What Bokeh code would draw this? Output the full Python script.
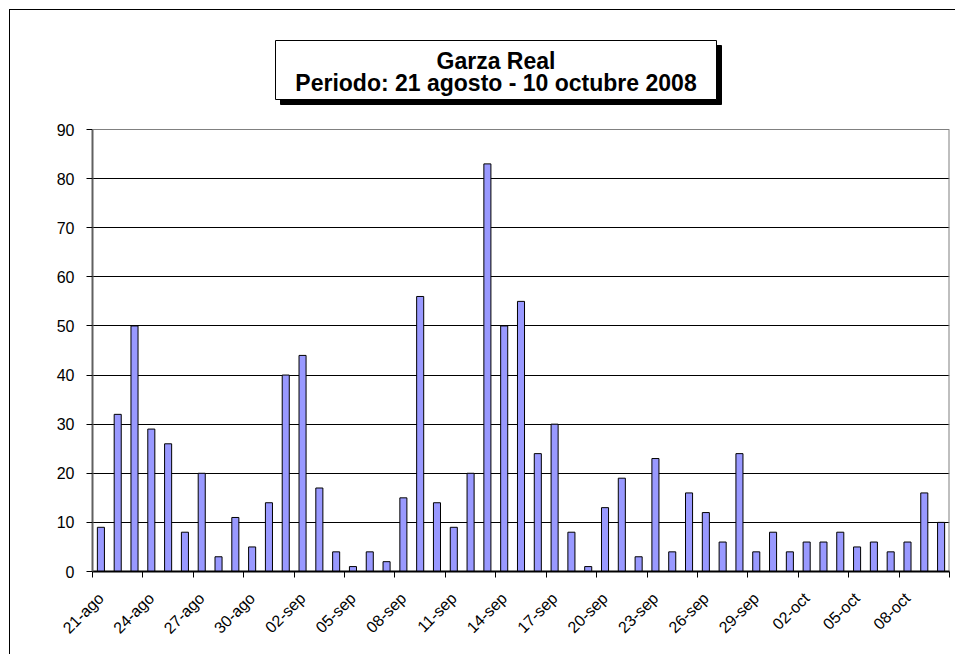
import math
from bokeh.plotting import figure
from bokeh.models import (ColumnDataSource, FixedTicker, Range1d, Label,
                          BoxAnnotation, Span)
from bokeh.embed import file_html
from bokeh.resources import INLINE

# ---- data ----
dates = (["%02d-ago" % d for d in range(21, 32)]
         + ["%02d-sep" % d for d in range(1, 31)]
         + ["%02d-oct" % d for d in range(1, 11)])
counts = [9, 32, 50, 29, 26, 8, 20, 3, 11, 5,
          14, 40, 44, 17, 4, 1, 4, 2, 15, 56,
          14, 9, 20, 83, 50, 55, 24, 30, 8, 1,
          13, 19, 3, 23, 4, 16, 12, 6, 24, 4,
          8, 4, 6, 6, 8, 5, 6, 4, 6, 16, 10]
y_ticks = [0, 10, 20, 30, 40, 50, 60, 70, 80, 90]
title_lines = ["Garza Real", "Periodo: 21 agosto - 10 octubre 2008"]

n = len(dates)
pos = [i + 0.5 for i in range(n)]
src = ColumnDataSource(dict(x=pos, top=counts, label=dates))

FONT = "Liberation Sans"

# layout (pixels)
W, H = 946, 645            # figure size (page offset 10,10 through CSS margin+border)
ML, MR, MT, MB = 82, 7, 0, 84
FRAME_H = H - MT - MB      # 561
PLOT_H = 442               # height of the 0..90 value area
ymax = y_ticks[-1]
y_end = ymax * FRAME_H / PLOT_H

p = figure(width=W, height=H, output_backend="svg", toolbar_location=None,
           x_range=Range1d(0, n), y_range=Range1d(0, y_end))
p.min_border_left = ML
p.min_border_right = MR
p.min_border_top = MT
p.min_border_bottom = MB
p.background_fill_color = "white"
p.border_fill_color = "white"
p.outline_line_color = None
p.styles = {"margin-left": "9px", "margin-top": "9px",
            "border-left": "1px solid black", "border-top": "1px solid black"}

p.vbar(x="x", top="top", width=0.42, bottom=0, source=src,
       fill_color="#9999FF", line_color="black", line_width=1)

# plot-area border (top + right), grey
p.add_layout(Span(location=ymax, dimension="width", line_color="#808080", line_width=1))
p.segment(x0=[n], y0=[0], x1=[n], y1=[ymax], line_color="#808080", line_width=2)

# x axis: labels every 3rd day at category centre, ticks at boundaries
lab_idx = list(range(0, n, 3))
xt = FixedTicker(ticks=[pos[i] for i in lab_idx],
                 minor_ticks=[float(i) for i in range(0, n + 1, 3)])
p.xaxis.ticker = xt
p.xaxis.major_label_overrides = {pos[i]: dates[i] for i in lab_idx}
p.xaxis.major_label_orientation = math.pi / 4
p.xaxis.major_tick_line_color = None
p.xaxis.major_tick_out = 0
p.xaxis.major_tick_in = 0
p.xaxis.minor_tick_line_color = "black"
p.xaxis.minor_tick_out = 6
p.xaxis.minor_tick_in = 0
p.xaxis.axis_line_color = "black"
p.xaxis.axis_line_width = 2
p.xaxis.major_label_text_font = FONT
p.xaxis.major_label_text_font_size = "16px"
p.xaxis.major_label_text_color = "black"
p.xaxis.major_label_standoff = 18

# y axis
p.yaxis.ticker = FixedTicker(ticks=y_ticks)
p.yaxis.bounds = (0, ymax)
p.yaxis.minor_tick_line_color = None
p.yaxis.major_tick_out = 6
p.yaxis.major_tick_in = 0
p.yaxis.major_tick_line_color = "black"
p.yaxis.axis_line_color = "#606060"
p.yaxis.axis_line_width = 2
p.yaxis.major_label_text_font = FONT
p.yaxis.major_label_text_font_size = "16px"
p.yaxis.major_label_text_color = "black"
p.yaxis.major_label_standoff = 12

p.xgrid.grid_line_color = None
p.ygrid.ticker = FixedTicker(ticks=y_ticks[1:-1])
p.ygrid.grid_line_color = "black"
p.ygrid.grid_line_width = 1

# title box with drop shadow (screen units, relative to frame bottom-left)
bl, br, bt, bb = 183, 624, 531, 472
sh = 5
scr = dict(left_units="screen", right_units="screen",
           top_units="screen", bottom_units="screen", level="overlay")
p.add_layout(BoxAnnotation(left=bl + sh, right=br + sh, top=bt - sh, bottom=bb - sh,
                           fill_color="black", fill_alpha=1, line_color="black",
                           line_alpha=1, **scr))
p.add_layout(BoxAnnotation(left=bl, right=br, top=bt, bottom=bb,
                           fill_color="white", fill_alpha=1, line_color="black",
                           line_alpha=1, line_width=1, **scr))
cx = (bl + br) / 2
for txt, yb in zip(title_lines, [510.5, 488.5]):
    p.add_layout(Label(x=cx, y=yb, x_units="screen", y_units="screen", text=txt,
                       text_align="center", text_baseline="alphabetic",
                       text_font=FONT, text_font_style="bold",
                       text_font_size="23px", text_color="black", level="overlay"))

open("out.html", "w").write(file_html(p, INLINE))
